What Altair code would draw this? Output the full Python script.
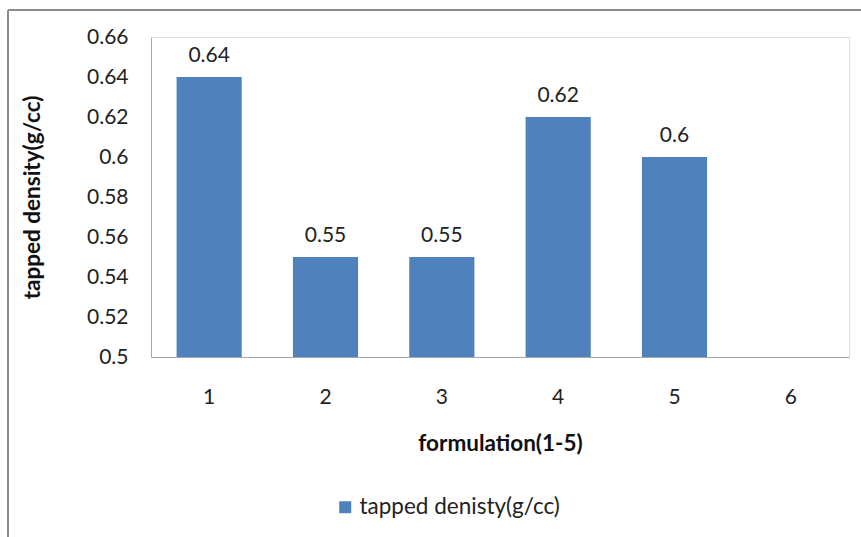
import altair as alt
import pandas as pd

# Tapped density per formulation (formulation 6 has no measurement)
formulations = ["1", "2", "3", "4", "5", "6"]
tapped_density = [0.64, 0.55, 0.55, 0.62, 0.60, None]
y_ticks = [0.50, 0.52, 0.54, 0.56, 0.58, 0.60, 0.62, 0.64, 0.66]
series_name = "tapped denisty(g/cc)"

df = pd.DataFrame({
    "formulation": formulations,
    "density": tapped_density,
    "series": [series_name] * len(formulations),
})

FONT = "Lato"
FS = 21
TFS = 22.5
BAR = "#4f81bd"
W, H = 698, 320
LEFT, TOP = 151, 37

x_scale = alt.Scale(domain=formulations, paddingInner=0.44, paddingOuter=0.22)
y_scale = alt.Scale(domain=[0.5, 0.66], zero=False, nice=False)

x_axis = alt.Axis(
    title="formulation(1-5)", labelAngle=0, ticks=False,
    labelBaseline="alphabetic", labelPadding=46,
    domainColor="#a6a6a6", labelFontSize=FS, labelColor="#222",
    titleFontSize=TFS, titleFontWeight="bold", titleColor="#111",
    titleY=93, titleBaseline="alphabetic", titleX=W / 2,
)
y_axis = alt.Axis(
    title="tapped density(g/cc)", values=y_ticks, format=".2~f",
    labelOverlap=False, labelBound=False, ticks=False, grid=False,
    labelPadding=23, domainColor="#a6a6a6", labelFontSize=FS,
    labelColor="#222", titleFontSize=TFS, titleFontWeight="bold",
    titleColor="#111", titleX=-119, titleY=H / 2, titleBaseline="middle",
    titleAngle=-90,
)

bars = alt.Chart(df).mark_bar(color=BAR).encode(
    x=alt.X("formulation:N", scale=x_scale, axis=x_axis),
    y=alt.Y("density:Q", scale=y_scale, axis=y_axis),
    y2=alt.datum(0.5),
    color=alt.Color(
        "series:N", scale=alt.Scale(range=[BAR]),
        legend=alt.Legend(
            title=None, orient="none", legendX=183, legendY=459,
            symbolType="square", symbolSize=144, symbolStrokeWidth=0,
            labelOffset=3, labelLimit=400,
            labelFontSize=22.5, labelColor="#222", labelFont=FONT,
        ),
    ),
)

labels = alt.Chart(df).mark_text(
    baseline="alphabetic", dy=-15, fontSize=FS, font=FONT, color="#222"
).encode(
    x=alt.X("formulation:N", scale=x_scale, axis=x_axis),
    y=alt.Y("density:Q", scale=y_scale, axis=y_axis),
    text=alt.Text("density:Q", format=".2~f"),
)

# Outer chart frame: top and left edges
frame_top = alt.Chart(df).mark_rule(color="#8c8c8c", strokeWidth=2).encode(
    x=alt.value(-LEFT + 8), x2=alt.value(861 - LEFT), y=alt.value(10 - TOP)
)
frame_left = alt.Chart(df).mark_rule(color="#8c8c8c", strokeWidth=2).encode(
    x=alt.value(-LEFT + 8), y=alt.value(10 - TOP), y2=alt.value(537 - TOP)
)

chart = (
    alt.layer(bars, labels, frame_top, frame_left)
    .properties(
        width=W, height=H,
        autosize=alt.AutoSizeParams(type="none"),
        padding={"left": LEFT, "top": TOP, "right": 861 - LEFT - W, "bottom": 537 - TOP - H},
    )
    .configure_view(stroke=None)
    .configure_axis(labelOverlap=False)
    .configure(font=FONT, background="white")
)

chart.save("out.html", embed_options={"renderer": "svg", "actions": False})
